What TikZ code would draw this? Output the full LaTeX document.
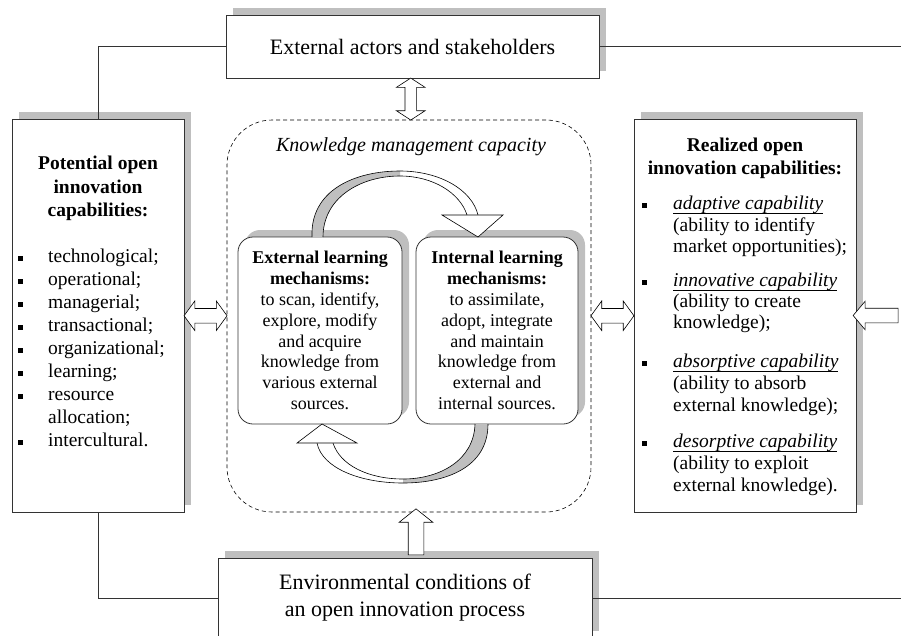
\documentclass[tikz,border=0pt]{standalone}
\usepackage{fontspec}
\setmainfont{Liberation Serif}
\usetikzlibrary{shapes.arrows,shadows,calc}

\definecolor{linec}{gray}{0.2}
\definecolor{shadec}{gray}{0.75}

\newsavebox{\capsave}
\newcommand{\capab}[1]{\sbox{\capsave}{\textit{#1}}\rlap{\usebox{\capsave}}\rule[-4pt]{\wd\capsave}{0.7pt}}

\tikzset{
  capbox/.style={draw=linec, fill=white, line width=0.8pt, inner sep=0pt,
    drop shadow={shadow xshift=7pt, shadow yshift=7pt, opacity=1, fill=shadec}},
  mech/.style={capbox, rounded corners=15pt, minimum height=187pt, align=center,
    font=\fontsize{18}{20.8}\selectfont},
  conn/.style={draw=linec, line width=0.8pt},
  dblarrow/.style={double arrow, draw=black, fill=white, line width=0.6pt, inner sep=0pt,
    text height=7pt, text depth=7pt, double arrow head extend=7.5pt, double arrow tip angle=108},
  sglarrow/.style={single arrow, draw=black, fill=white, line width=0.6pt, inner sep=0pt,
    text height=7pt, text depth=7pt, single arrow head extend=7pt, single arrow tip angle=100},
  listline/.style={anchor=west, inner sep=0pt, text height=13pt, text depth=4pt,
    font=\fontsize{19.5}{23}\selectfont},
  loopband/.style={draw=black, line width=0.6pt}
}

\begin{document}
\begin{tikzpicture}[x=1pt,y=-1pt]
\useasboundingbox (0,0) rectangle (901,635);
\coordinate (edgeR) at (901,0);

% caixas de fora
\node[capbox, minimum width=373pt, minimum height=63pt, font=\fontsize{22}{27}\selectfont]
  (actors) at (412.5,46.5) {External actors and stakeholders};
\node[capbox, minimum width=172pt, minimum height=393pt] (potential) at (98,315.5) {};
\node[capbox, minimum width=222pt, minimum height=393pt] (realized) at (745,315.5) {};
\node[capbox, minimum width=374pt, minimum height=80pt, align=center,
  font=\fontsize{22}{27}\selectfont]
  (env) at (405,598) {Environmental conditions of\\an open innovation process};

% capacidade de gestao do conhecimento
\node[draw=black, line width=0.6pt, dash pattern=on 4pt off 3pt, rounded corners=45pt,
  minimum width=364pt, minimum height=392pt] (kmc) at (409,316) {};
\node[font=\itshape\fontsize{20}{24}\selectfont] (kmctitle) at (411,147)
  {Knowledge management capacity};

\node[mech, minimum width=164pt] (extlm) at (320,330.5)
  {\textbf{External learning}\\\textbf{mechanisms:}\\to scan, identify,\\explore, modify\\and acquire\\knowledge from\\various external\\sources.};
\node[mech, minimum width=162pt] (intlm) at (497,330.5)
  {\textbf{Internal learning}\\\textbf{mechanisms:}\\to assimilate,\\adopt, integrate\\and maintain\\knowledge from\\external and\\internal sources.};

% laco de cima
\fill[white] (312,237) .. controls (310,190) and (355,171) .. (400,171)
  .. controls (440,171) and (472,190) .. (478,215) -- (467,215)
  .. controls (460,193) and (433,176) .. (400,176)
  .. controls (360,176) and (323,198) .. (323,237) -- cycle;
\fill[shadec] (312,237) .. controls (310,190) and (355,171) .. (400,171) -- (400,176)
  .. controls (360,176) and (323,198) .. (323,237) -- cycle;
\draw[loopband] (312,237) .. controls (310,190) and (355,171) .. (400,171)
  .. controls (440,171) and (472,190) .. (478,215);
\draw[loopband] (323,237) .. controls (323,198) and (360,176) .. (400,176)
  .. controls (433,176) and (460,193) .. (467,215);
\filldraw[loopband, fill=white] (442,215) -- (503,215) -- (478,237) -- cycle;

% laco de baixo
\fill[white] (488,424) .. controls (488,468) and (445,483) .. (403,483)
  .. controls (360,483) and (322,468) .. (317,443) -- (333,443)
  .. controls (340,465) and (368,479) .. (403,479)
  .. controls (440,479) and (474,460) .. (475,424) -- cycle;
\fill[shadec] (488,424) .. controls (488,468) and (445,483) .. (403,483) -- (403,479)
  .. controls (440,479) and (474,460) .. (475,424) -- cycle;
\draw[loopband] (488,424) .. controls (488,468) and (445,483) .. (403,483)
  .. controls (360,483) and (322,468) .. (317,443);
\draw[loopband] (475,424) .. controls (474,460) and (440,479) .. (403,479)
  .. controls (368,479) and (340,465) .. (333,443);
\filldraw[loopband, fill=white] (297,443) -- (357,443) -- (322,424) -- cycle;

% setas largas
\node[dblarrow, rotate=90, minimum height=42pt, text height=5.5pt, text depth=5.5pt,
  double arrow head extend=8.5pt, double arrow tip angle=114]
  (arrtop) at ($(actors.south)!.5!(kmc.north)$) {};
\node[dblarrow, minimum height=43pt] (arrleft) at ($(potential.east)!.5!(kmc.west)$) {};
\node[dblarrow, minimum height=43pt] (arrmid) at ($(kmc.east)!.5!(realized.west)$) {};
\node[sglarrow, rotate=180, minimum height=45pt]
  (arrright) at ($(realized.east)!.5!(realized.east -| edgeR)$) {};
\node[sglarrow, rotate=90, minimum height=46pt, text height=7.5pt, text depth=7.5pt,
  single arrow head extend=9pt, single arrow tip angle=103]
  (arrbottom) at ($(env.north)!.5!(kmc.south)+(9,0)$) {};

% linhas
\draw[conn] (actors.west) -| (potential.north);
\draw[conn] (actors.east) -- (actors.east -| edgeR);
\draw[conn] (potential.south) |- (env.west);
\draw[conn] (env.east) -- (env.east -| edgeR);

% lista da esquerda
\node[font=\bfseries\fontsize{19.5}{23.5}\selectfont, align=center] (pothead) at (98,188.5)
  {Potential open\\innovation\\capabilities:};
\foreach \txt [count=\i] in {technological;, operational;, managerial;, transactional;,
    organizational;, learning;, resource, allocation;, intercultural.} {
  \node[listline] (pl\i) at (48,235+23*\i) {\txt};
}
\foreach \i in {1,...,7,9} {
  \fill (18,233+23*\i) rectangle +(5,5);
}

% lista da direita
\node[font=\bfseries\fontsize{19.5}{23.5}\selectfont, align=center] (realhead) at (745,158.5)
  {Realized open\\innovation capabilities:};
\foreach \y/\txt [count=\i] in {
    205/{\capab{adaptive capability}}, 227/{(ability to identify}, 248/{market opportunities);},
    282/{\capab{innovative capability}}, 303/{(ability to create}, 324/{knowledge);},
    363/{\capab{absorptive capability}}, 385/{(ability to absorb}, 407/{external knowledge);},
    443/{\capab{desorptive capability}}, 465/{(ability to exploit}, 487/{external knowledge).}} {
  \node[listline] (rl\i) at (673,\y) {\txt};
}
\foreach \y in {205,282,363,443} {
  \fill (642,\y-2.5) rectangle +(5,5);
}

\end{tikzpicture}
\end{document}
